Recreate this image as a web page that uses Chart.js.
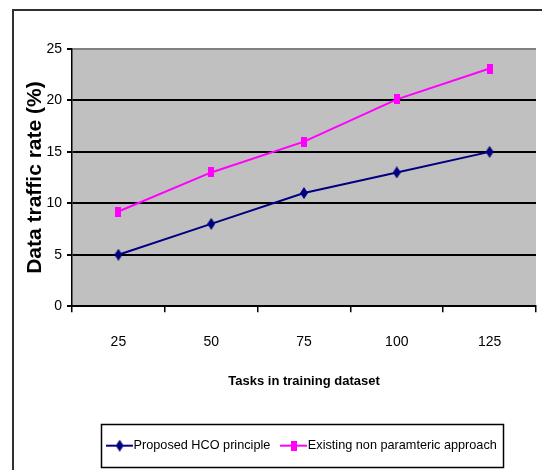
<!DOCTYPE html>
<html><head><meta charset="utf-8">
<style>html,body{margin:0;padding:0;background:#fff;overflow:hidden}#wrap{width:542px;height:470px;position:relative}</style>
<script src="https://cdn.jsdelivr.net/npm/chart.js@4.4.1/dist/chart.umd.min.js"></script>
</head><body><div id="wrap"><canvas id="c" width="542" height="470"></canvas></div>
<script>
const categories = ['25', '50', '75', '100', '125'];
const proposedHCO = [5, 8, 11, 13, 15];
const existingNonParametric = [9.2, 13, 16, 20.1, 23.1];
const yTickValues = [0, 5, 10, 15, 20, 25];
const seriesNames = ['Proposed HCO principle', 'Existing non paramteric approach'];
const xTitle = 'Tasks in training dataset';
const yTitle = 'Data traffic rate (%)';

const NARROW = "'Liberation Sans Narrow', 'Arial Narrow', 'Liberation Sans', Arial, sans-serif";
const ARIAL = "'Liberation Sans', Arial, sans-serif";
const NAVY = '#000080', PINK = '#FF00FF';
const LEGEND_FONT = 12.7;
const LEGEND_PAD = 15.15;

function diamond(w, h, color) {
  const c = document.createElement('canvas'); c.width = w; c.height = h;
  const x = c.getContext('2d'); x.fillStyle = color;
  x.beginPath(); x.moveTo(w / 2, 0); x.lineTo(w, h / 2); x.lineTo(w / 2, h); x.lineTo(0, h / 2); x.closePath(); x.fill();
  return c;
}
function rectMark(w, h, color) {
  const c = document.createElement('canvas'); c.width = w; c.height = h;
  const x = c.getContext('2d'); x.fillStyle = color; x.fillRect(0, 0, w, h);
  return c;
}
function legendIcon(marker, color, width) {
  const c = document.createElement('canvas'); c.width = width; c.height = marker.height;
  const x = c.getContext('2d'); x.strokeStyle = color; x.lineWidth = 2;
  x.beginPath(); x.moveTo(0, marker.height / 2); x.lineTo(width, marker.height / 2); x.stroke();
  x.drawImage(marker, Math.round((width - marker.width) / 2), 0);
  return c;
}
const navyMark = diamond(8, 12, NAVY);
const pinkMark = rectMark(6, 10, PINK);
const BOXW = 16;
const ICONW = Math.round(BOXW + 2 * (LEGEND_FONT / 2 - 1));
const navyIcon = legendIcon(navyMark, NAVY, ICONW);
const pinkIcon = legendIcon(pinkMark, PINK, ICONW);

const framePlugin = {
  id: 'frame',
  beforeDraw(chart) {
    const ctx = chart.ctx, a = chart.chartArea;
    ctx.save();
    ctx.strokeStyle = '#303030'; ctx.lineWidth = 2;
    ctx.strokeRect(13, 10, 700, 700);
    ctx.fillStyle = '#C0C0C0';
    ctx.fillRect(a.left, a.top, a.right - a.left, a.bottom - a.top);
    ctx.restore();
  },
  afterDraw(chart) {
    const lg = chart.legend; if (!lg || !lg.legendHitBoxes || !lg.legendHitBoxes.length) return;
    const hb = lg.legendHitBoxes, first = hb[0], last = hb[hb.length - 1];
    const ctx = chart.ctx;
    ctx.save(); ctx.strokeStyle = '#000'; ctx.lineWidth = 1.5;
    const textMid = first.top + first.height / 2;
    const l = first.left - (ICONW - BOXW) / 2 - 5, r = last.left + last.width + 6;
    const t = Math.round(textMid - 21.5), b = Math.round(textMid + 21.5);
    ctx.strokeRect(Math.round(l) + 0.5, t + 0.5, Math.round(r - l), b - t);
    ctx.restore();
  }
};

new Chart(document.getElementById('c'), {
  type: 'line',
  data: {
    labels: categories,
    datasets: [
      { label: seriesNames[0], data: proposedHCO, borderColor: NAVY, backgroundColor: NAVY, borderWidth: 2, pointStyle: navyMark, tension: 0, fill: false },
      { label: seriesNames[1], data: existingNonParametric, borderColor: PINK, backgroundColor: PINK, borderWidth: 2, pointStyle: pinkMark, tension: 0, fill: false }
    ]
  },
  plugins: [framePlugin],
  options: {
    responsive: false, animation: false,
    layout: { padding: { top: 49, left: 0, right: 0, bottom: 8 } },
    plugins: {
      tooltip: { enabled: false },
      legend: {
        position: 'bottom', fullSize: false,
        labels: {
          usePointStyle: true, pointStyleWidth: BOXW, padding: LEGEND_PAD, color: '#000',
          font: { family: NARROW, size: LEGEND_FONT },
          generateLabels(chart) {
            return chart.data.datasets.map((d, i) => ({
              text: d.label, datasetIndex: i, pointStyle: i === 0 ? navyIcon : pinkIcon,
              fillStyle: d.borderColor, strokeStyle: d.borderColor, lineWidth: 0, hidden: false, fontColor: '#000'
            }));
          }
        }
      }
    },
    scales: {
      x: {
        type: 'category', offset: true,
        grid: { offset: true, drawOnChartArea: false, drawTicks: true, tickLength: 6, color: '#000', lineWidth: 1.5 },
        border: { color: '#000', width: 2 },
        ticks: { color: '#000', padding: 22, font: { family: NARROW, size: 14 }, maxRotation: 0 },
        title: { display: true, text: xTitle, color: '#000', font: { family: NARROW, size: 13, weight: 'bold' }, padding: { top: 0, bottom: 34.7 } },
        afterFit(s) { s.height = 118; }
      },
      y: {
        min: 0, max: 25,
        afterBuildTicks(s) { s.ticks = yTickValues.map(v => ({ value: v })); },
        grid: {
          color: ctx => (ctx.tick && ctx.tick.value === 25) ? '#808080' : '#000',
          lineWidth: 2, tickLength: 5, tickColor: '#000', drawTicks: true
        },
        border: { color: '#000', width: 1.5 },
        ticks: { color: '#000', padding: 5, font: { family: NARROW, size: 14 } },
        title: { display: true, text: yTitle, color: '#000', font: { family: ARIAL, size: 21, weight: 'bold' }, padding: { top: 22.5, bottom: 0 } },
        afterFit(s) { s.width = 72; }
      }
    }
  }
});
</script>
</body></html>
